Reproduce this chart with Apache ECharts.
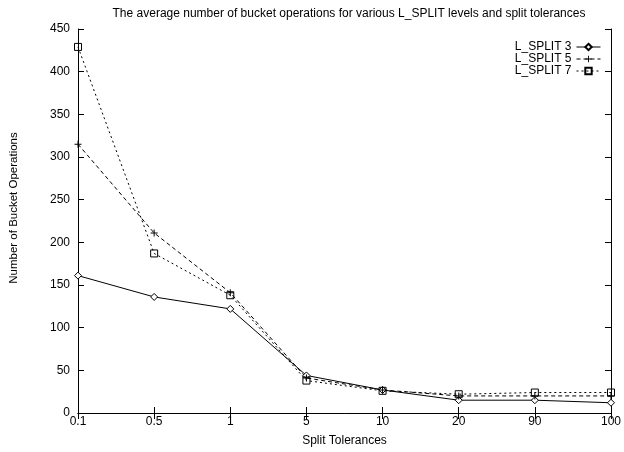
<!DOCTYPE html>
<html>
<head>
<meta charset="utf-8">
<script src="https://cdn.jsdelivr.net/npm/echarts@6/dist/echarts.min.js"></script>
<style>
    html, body { margin: 0; padding: 0; background: #fff; }
    #chart { width: 624px; height: 452px; }
</style>
</head>
<body>
<div id="chart"></div>
<script>
// categories and values
var tolerances = ['0.1', '0.5', '1', '5', '10', '20', '90', '100'];
var lsplit3 = [161, 136, 122, 44, 27, 15, 15, 12];
var lsplit5 = [315, 211, 141, 41, 27, 20, 20, 20];
var lsplit7 = [429, 187, 138, 38, 26, 22, 24, 24];
var yTicks = [0, 50, 100, 150, 200, 250, 300, 350, 400, 450];

var plusIcon = 'path://M4.3,0h1.4v10h-1.4zM0,4.3h10v1.4h-10z';
var font = 'Liberation Sans';

window.drawChart = function () {
    var chartDom = document.getElementById('chart');
    var myChart = echarts.init(chartDom);

    var tickStyle = { show: true, inside: true, length: 6, lineStyle: { color: '#000', width: 1 } };

    function makeSeries(name, data, symbol, size, dash) {
        return {
            name: name,
            type: 'line',
            data: data,
            symbol: symbol,
            symbolSize: size,
            showAllSymbol: true,
            lineStyle: { color: '#000', width: 1, type: dash },
            itemStyle: { color: '#000', borderColor: '#000', borderWidth: 1 },
            emphasis: { disabled: true },
            animation: false
        };
    }

    var s3 = makeSeries('L_SPLIT 3', lsplit3, 'diamond', 7, 'solid');
    s3.itemStyle = { color: '#fff', borderColor: '#000', borderWidth: 1 };
    var s5 = makeSeries('L_SPLIT 5', lsplit5, plusIcon, 7, [4, 3]);
    s5.itemStyle = { color: '#000', borderColor: '#000', borderWidth: 0 };
    var s7 = makeSeries('L_SPLIT 7', lsplit7, 'rect', 7, [2, 3]);
    s7.itemStyle = { color: 'rgba(255,255,255,0)', borderColor: '#000', borderWidth: 1 };

    var option = {
        backgroundColor: '#fff',
        animation: false,
        textStyle: { fontFamily: font },
        title: {
            text: 'The average number of bucket operations for various L_SPLIT levels and split tolerances',
            left: 344,
            textAlign: 'center',
            top: 3,
            textStyle: { fontSize: 12, fontWeight: 'normal', color: '#000', fontFamily: font }
        },
        legend: {
            orient: 'vertical',
            right: 18,
            top: 36,
            align: 'right',
            itemGap: 0,
            itemWidth: 24,
            itemHeight: 8,
            textStyle: { fontSize: 12, color: '#000', fontFamily: font },
            lineStyle: { width: 1 },
            data: ['L_SPLIT 3', 'L_SPLIT 5', 'L_SPLIT 7']
        },
        grid: { left: 75, right: 10, top: 29, bottom: 30 },
        xAxis: [{
            type: 'category',
            data: tolerances,
            boundaryGap: false,
            name: 'Split Tolerances',
            nameLocation: 'middle',
            nameGap: 22,
            nameTextStyle: { fontSize: 12, color: '#000', fontFamily: font },
            axisLine: { lineStyle: { color: '#000', width: 1 } },
            axisTick: tickStyle,
            axisLabel: { color: '#000', fontSize: 12, margin: 3, fontFamily: font },
            splitLine: { show: false }
        }, {
            type: 'category',
            data: tolerances,
            boundaryGap: false,
            position: 'top',
            axisLine: { lineStyle: { color: '#000', width: 1 } },
            axisTick: tickStyle,
            axisLabel: { show: false },
            splitLine: { show: false }
        }],
        yAxis: [{
            type: 'value',
            min: 0,
            max: 450,
            interval: 50,
            name: 'Number of Bucket Operations',
            nameLocation: 'middle',
            nameGap: 58,
            nameTextStyle: { fontSize: 11.5, color: '#000', fontFamily: font, padding: [0, 0, 0, 26] },
            axisLine: { show: true, lineStyle: { color: '#000', width: 1 } },
            axisTick: tickStyle,
            axisLabel: {
                color: '#000', fontSize: 12, margin: 8, fontFamily: font,
                formatter: function (v) { return yTicks.indexOf(v) >= 0 ? String(v) : ''; }
            },
            splitLine: { show: false }
        }, {
            type: 'value',
            min: 0,
            max: 450,
            interval: 50,
            position: 'right',
            axisLine: { show: true, lineStyle: { color: '#000', width: 1 } },
            axisTick: tickStyle,
            axisLabel: { show: false },
            splitLine: { show: false }
        }],
        series: [s3, s5, s7]
    };

    myChart.setOption(option);
};

window.drawChart();
</script>
</body>
</html>
